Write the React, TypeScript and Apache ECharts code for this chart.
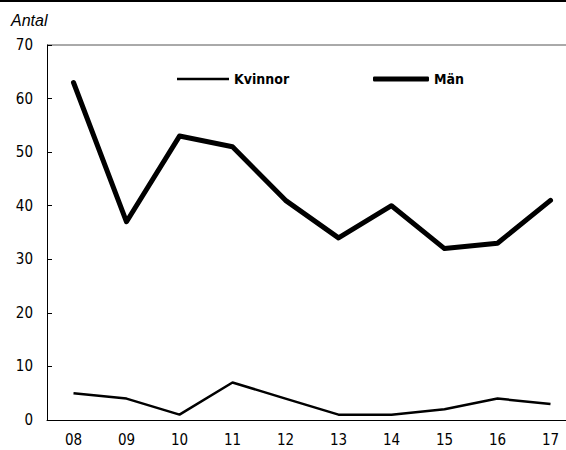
import React, { useEffect, useRef } from "react";
import * as echarts from "echarts";

const years = ["08", "09", "10", "11", "12", "13", "14", "15", "16", "17"];
const kvinnor = [5, 4, 1, 7, 4, 1, 1, 2, 4, 3];
const man = [63, 37, 53, 51, 41, 34, 40, 32, 33, 41];
const yTitle = "Antal";

const FONT = "'Liberation Sans Narrow', 'DejaVu Sans Condensed', 'Roboto Condensed', sans-serif";

export default function App() {
  const ref = useRef<HTMLDivElement>(null);
  useEffect(() => {
    const chart = echarts.init(ref.current!, null, { renderer: "svg" });
    const legendText = { fontFamily: FONT, fontWeight: "bold", fontSize: 14, color: "#000" };
    chart.setOption({
      animation: false,
      backgroundColor: "#fff",
      graphic: [
        { type: "line", shape: { x1: 0, y1: 1, x2: 566, y2: 1 }, style: { stroke: "#000", lineWidth: 2 } },
        { type: "line", shape: { x1: 47, y1: 45, x2: 566, y2: 45 }, style: { stroke: "#555", lineWidth: 1 } },
        {
          type: "text", left: 11, top: 12,
          style: { text: yTitle, font: "italic 16px 'Liberation Sans', Arial, sans-serif", fill: "#000" },
        },
      ],
      legend: [
        {
          left: 177, top: 72, padding: 0, itemWidth: 52, itemHeight: 2.5, itemGap: 5,
          data: [{ name: "Kvinnor", icon: "rect" }],
          itemStyle: { color: "#000" },
          textStyle: legendText,
        },
        {
          left: 373, top: 72, padding: 0, itemWidth: 56, itemHeight: 5, itemGap: 5,
          data: [{ name: "Män", icon: "roundRect" }],
          itemStyle: { color: "#000" },
          textStyle: legendText,
        },
      ],
      grid: { left: 47, top: 45, width: 530, bottom: 30, containLabel: false },
      xAxis: {
        type: "category", data: years, boundaryGap: true,
        axisLine: { lineStyle: { color: "#000", width: 1 } },
        axisTick: { inside: true, length: 6, lineStyle: { color: "#000" } },
        axisLabel: { fontFamily: FONT, fontSize: 15, color: "#000", margin: 12 },
      },
      yAxis: {
        type: "value", min: 0, max: 70, interval: 10,
        axisLine: { show: true, lineStyle: { color: "#000", width: 1 } },
        axisTick: { show: true, inside: true, length: 5, lineStyle: { color: "#000" } },
        splitLine: { show: false },
        axisLabel: { fontFamily: FONT, fontSize: 15, color: "#000", margin: 14 },
      },
      series: [
        {
          name: "Kvinnor", type: "line", data: kvinnor, symbol: "none",
          lineStyle: { color: "#000", width: 2.5 }, itemStyle: { color: "#000" },
        },
        {
          name: "Män", type: "line", data: man, symbol: "none",
          lineStyle: { color: "#000", width: 5, cap: "round", join: "round" }, itemStyle: { color: "#000" },
        },
      ],
    });
    return () => chart.dispose();
  }, []);
  return (
    <div style={{ position: "fixed", left: 0, top: 0, width: 566, height: 450, overflow: "hidden" }}>
      <div ref={ref} style={{ width: 600, height: 450 }} />
    </div>
  );
}
